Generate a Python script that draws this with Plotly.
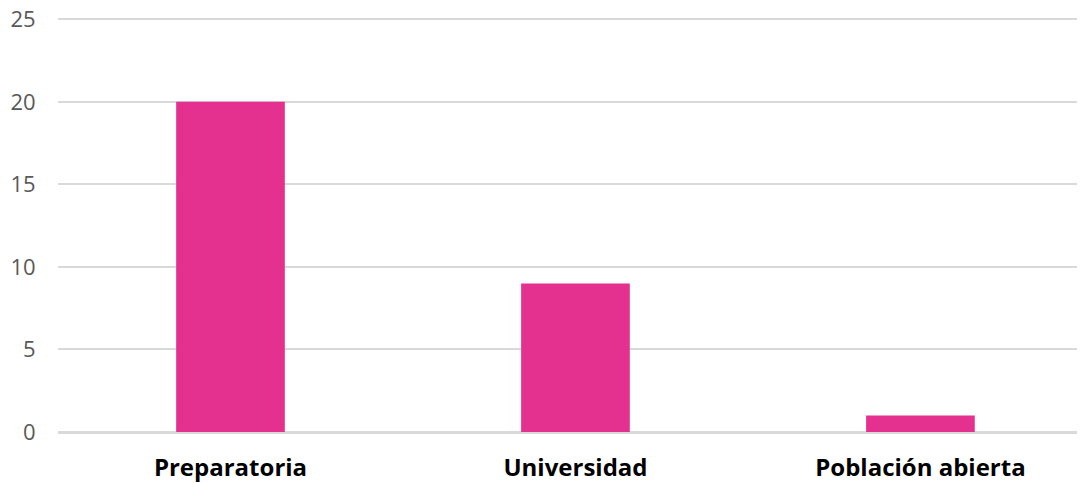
import plotly.graph_objects as go

categories = ["Preparatoria", "Universidad", "Población abierta"]
values = [20, 9, 1]
y_ticks = [0, 5, 10, 15, 20, 25]

fig = go.Figure(go.Bar(
    x=categories, y=values,
    marker=dict(color="#E4308F", line=dict(width=0)),
    width=0.315,
))

fig.update_layout(
    width=1077, height=475,
    margin=dict(l=50, r=0, t=8, b=51),
    plot_bgcolor="white", paper_bgcolor="white",
    showlegend=False,
    xaxis=dict(
        range=[-0.5, 2.477], automargin=False,
        tickfont=dict(family="Open Sans", size=24, color="#000000", weight="bold"),
        showgrid=False, showline=False,
        ticks="outside", ticklen=14, tickcolor="rgba(0,0,0,0)",
    ),
    yaxis=dict(
        range=[0, 25.2], tickvals=y_ticks, automargin=False,
        ticklabeloverflow="allow",
        tickfont=dict(family="Open Sans", size=22, color="#595959"),
        showgrid=True, gridcolor="#D9D9D9", gridwidth=1.5,
        zeroline=True, zerolinecolor="#D9D9D9", zerolinewidth=2.5,
        ticks="outside", ticklen=17, tickcolor="rgba(0,0,0,0)",
    ),
)

fig.write_html("out.html")
